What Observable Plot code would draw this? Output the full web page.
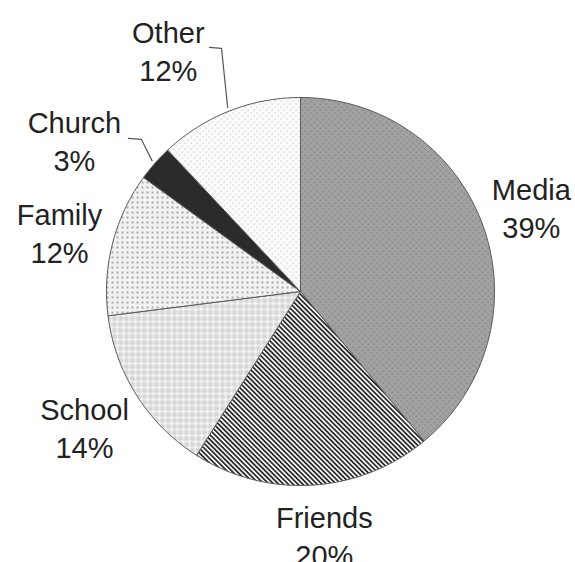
<!DOCTYPE html>
<html>
<head>
<meta charset="utf-8">
<script src="https://cdn.jsdelivr.net/npm/d3@7"></script>
<script src="https://cdn.jsdelivr.net/npm/@observablehq/plot@0.6"></script>
<style>
  html, body { margin: 0; padding: 0; background: #fff; }
  #chart svg { display: block; }
</style>
</head>
<body>
<div id="chart"></div>
<script>
// ---- data ----
const categories = ["Media", "Friends", "School", "Family", "Church", "Other"];
const percents = [39, 20, 14, 12, 3, 12];
const fills = ["url(#pMedia)", "url(#pFriends)", "url(#pSchool)", "url(#pFamily)", "#2b2b2b", "url(#pOther)"];

// ---- layout (label placement in pie-radius units) ----
const labelAngle = [69.8, 174.4, 238, 284, 303.9, 331.3];
const labelRadius = [1.268, 1.258, 1.313, 1.28, 1.404, 1.419];
const leaderElbow = { Other: [[-0.407, 1.253], [-0.469, 1.258]], Church: [[-0.820, 0.784], [-0.887, 0.789]] };

const W = 575, H = 562, R = 194, CX = 300, CY = 291;

// slices from cumulative percentages (clockwise from 12 o'clock)
const total = d3.sum(percents);
let cum = 0;
const slices = categories.map((c, i) => {
  const a0 = cum / total * 2 * Math.PI;
  cum += percents[i];
  const a1 = cum / total * 2 * Math.PI;
  return { cat: c, pct: percents[i], a0, a1, mid: (a0 + a1) / 2, fill: fills[i], i };
});

function polygon(s) {
  const pts = [{ x: 0, y: 0 }];
  const n = Math.max(2, Math.ceil((s.a1 - s.a0) / (Math.PI / 180)));
  for (let k = 0; k <= n; k++) {
    const a = s.a0 + (s.a1 - s.a0) * k / n;
    pts.push({ x: Math.sin(a), y: Math.cos(a) });
  }
  pts.push({ x: 0, y: 0 });
  return pts;
}

const labels = slices.map(s => {
  const a = labelAngle[s.i] * Math.PI / 180, r = labelRadius[s.i];
  return { x: Math.sin(a) * r, y: Math.cos(a) * r, text: `${s.cat}\n${s.pct}%` };
});

const leaders = [];
for (const s of slices) {
  if (!leaderElbow[s.cat]) continue;
  leaders.push({ k: s.cat, x: Math.sin(s.mid) * 1.02, y: Math.cos(s.mid) * 1.02 });
  for (const [x, y] of leaderElbow[s.cat]) leaders.push({ k: s.cat, x, y });
}

const marks = slices.map(s =>
  Plot.line(polygon(s), { x: "x", y: "y", fill: s.fill, stroke: "#5a5a5a", strokeWidth: 1, strokeLinejoin: "round" })
);
marks.push(Plot.line(leaders, { x: "x", y: "y", z: "k", stroke: "#555", strokeWidth: 1.2 }));
marks.push(Plot.text(labels, {
  x: "x", y: "y", text: "text", fontSize: 29, lineHeight: 1.31, fill: "#222",
  fontFamily: "'Liberation Sans', Arial, sans-serif"
}));

const chart = Plot.plot({
  width: W, height: H,
  margin: 0,
  x: { domain: [-CX / R, (W - CX) / R], axis: null },
  y: { domain: [-(H - CY) / R, CY / R], axis: null },
  style: { background: "#fff" },
  marks
});

chart.insertAdjacentHTML("afterbegin", `
<defs>
  <pattern id="pMedia" width="6" height="6" patternUnits="userSpaceOnUse">
    <rect width="6" height="6" fill="#a2a2a2"/>
    <rect x="1" y="1" width="1.4" height="1.4" fill="#7c7c7c"/>
    <rect x="4" y="4" width="1.4" height="1.4" fill="#7c7c7c"/>
  </pattern>
  <pattern id="pFriends" width="3.4" height="10" patternUnits="userSpaceOnUse" patternTransform="rotate(-45)">
    <rect width="3.4" height="10" fill="#f4f4f4"/>
    <rect width="1.7" height="10" fill="#2a2a2a"/>
  </pattern>
  <pattern id="pSchool" width="6" height="6" patternUnits="userSpaceOnUse">
    <rect width="6" height="6" fill="#d6d6d6"/>
    <rect x="2" y="0" width="2" height="6" fill="#e9e9e9"/>
    <rect x="0" y="2" width="6" height="2" fill="#e9e9e9"/>
    <rect x="2" y="2" width="2" height="2" fill="#fafafa"/>
  </pattern>
  <pattern id="pFamily" width="5" height="5" patternUnits="userSpaceOnUse">
    <rect width="5" height="5" fill="#f2f2f2"/>
    <rect x="1" y="1" width="2" height="2" fill="#a8a8a8"/>
  </pattern>
  <pattern id="pOther" width="6" height="6" patternUnits="userSpaceOnUse">
    <rect width="6" height="6" fill="#fbfbfb"/>
    <rect x="1" y="1" width="1.3" height="1.3" fill="#c4c4c4"/>
    <rect x="4" y="4" width="1.3" height="1.3" fill="#c4c4c4"/>
  </pattern>
</defs>`);

document.getElementById("chart").appendChild(chart);
</script>
</body>
</html>
